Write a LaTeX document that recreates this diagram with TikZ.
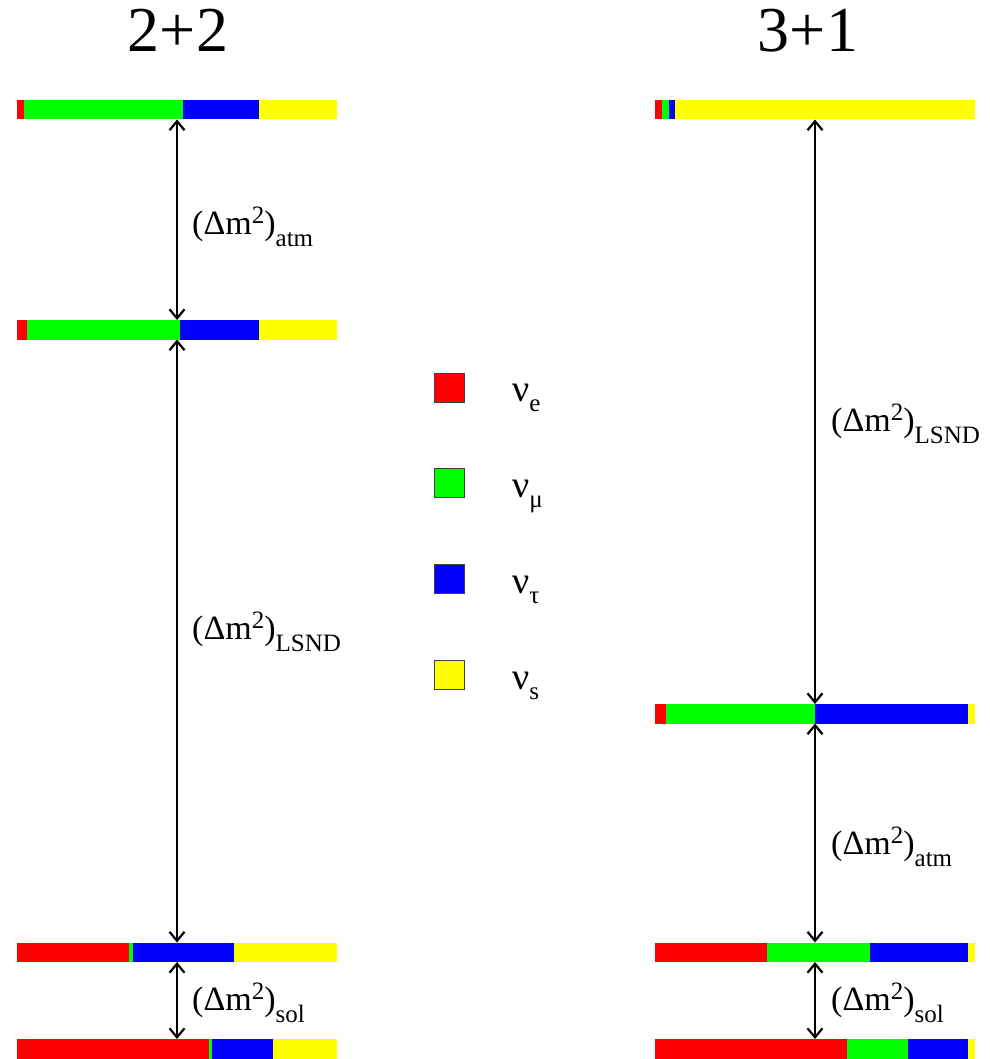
\documentclass[tikz,border=0pt]{standalone}
\usepackage{fontspec}
\setmainfont{Liberation Serif}
\usetikzlibrary{positioning,arrows.meta}

\definecolor{nuE}{RGB}{255,0,0}
\definecolor{nuMu}{RGB}{0,255,0}
\definecolor{nuTau}{RGB}{0,0,255}
\definecolor{nuS}{RGB}{255,255,0}

% label for a mass splitting
\newcommand{\dmsq}[1]{(Δm\raisebox{0.32em}{\fontsize{25}{25}\selectfont 2})\raisebox{-0.36em}{\fontsize{25}{25}\selectfont #1}}
% neutrino flavour with its index
\newcommand{\nuflav}[1]{ν\raisebox{-0.27em}{\fontsize{25}{25}\selectfont #1}}
% mass level: name, left x, top y, end of e, end of mu, end of tau
\newcommand{\flavbar}[6]{%
  \fill[nuE] (#2,#3) rectangle (#4,#3+19.5);
  \fill[nuMu] (#4,#3) rectangle (#5,#3+19.5);
  \fill[nuTau] (#5,#3) rectangle (#6,#3+19.5);
  \fill[nuS] (#6,#3) rectangle (#2+320,#3+19.5);
  \node[level] (#1) at (#2,#3) {};
}

\begin{document}
\begin{tikzpicture}[x=1pt,y=-1pt,
    level/.style={anchor=north west, inner sep=0pt, outer sep=0pt, minimum width=320pt, minimum height=19.5pt},
    split/.style={{Straight Barb[length=9pt,width=15pt]}-{Straight Barb[length=9pt,width=15pt]}, line width=2.2pt},
    dmlabel/.style={anchor=base west, inner sep=0pt, font=\fontsize{34}{38}\selectfont},
    keybox/.style={draw=black!75, line width=0.6pt, minimum width=30pt, minimum height=29pt, inner sep=0pt},
    keylabel/.style={anchor=base west, inner sep=0pt, font=\fontsize{38}{40}\selectfont},
    title/.style={anchor=base, inner sep=0pt, font=\fontsize{64}{70}\selectfont}]
        \useasboundingbox (0,0) rectangle (989,1059);

        % Titles
        \node[title] (scheme22) at (178,52) {2+2};
        \node[title] (scheme31) at (808,52) {3+1};

        % Levels 2+2
        \flavbar{Lone}{17}{100}{23.7}{182.7}{259}
        \flavbar{Ltwo}{17}{320}{27}{179.7}{259}
        \flavbar{Lthree}{17}{942.5}{129}{133}{234}
        \flavbar{Lfour}{17}{1039}{209}{212}{273}

        % Levels 3+1
        \flavbar{Rone}{655}{100}{662}{669}{675}
        \flavbar{Rtwo}{655}{704}{666}{815}{968}
        \flavbar{Rthree}{655}{942.5}{767}{870}{968}
        \flavbar{Rfour}{655}{1039}{847}{908}{968}

        % Arrows
        \draw[split] (Lone.south) -- (Ltwo.north);
        \draw[split] (Ltwo.south) -- (Lthree.north);
        \draw[split] (Lthree.south) -- (Lfour.north);
        \draw[split] (Rone.south) -- (Rtwo.north);
        \draw[split] (Rtwo.south) -- (Rthree.north);
        \draw[split] (Rthree.south) -- (Rfour.north);

        % Splittings
        \node[dmlabel] (Latm) at (192,234) {\dmsq{atm}};
        \node[dmlabel] (Llsnd) at (192,639) {\dmsq{LSND}};
        \node[dmlabel] (Lsol) at (192,1010) {\dmsq{sol}};
        \node[dmlabel] (Rlsnd) at (831,431) {\dmsq{LSND}};
        \node[dmlabel] (Ratm) at (831,854) {\dmsq{atm}};
        \node[dmlabel] (Rsol) at (831,1010) {\dmsq{sol}};

        % Legend
        \node[keybox, fill=nuE] (keyE) at (449.5,387.5) {};
        \node[keybox, fill=nuMu] (keyMu) at (449.5,482.5) {};
        \node[keybox, fill=nuTau] (keyTau) at (449.5,578.5) {};
        \node[keybox, fill=nuS] (keyS) at (449.5,674.5) {};
        \node[keylabel] (labE) at (512,401) {\nuflav{e}};
        \node[keylabel] (labMu) at (512,497) {\nuflav{μ}};
        \node[keylabel] (labTau) at (512,593) {\nuflav{τ}};
        \node[keylabel] (labS) at (512,689) {\nuflav{s}};
\end{tikzpicture}
\end{document}
